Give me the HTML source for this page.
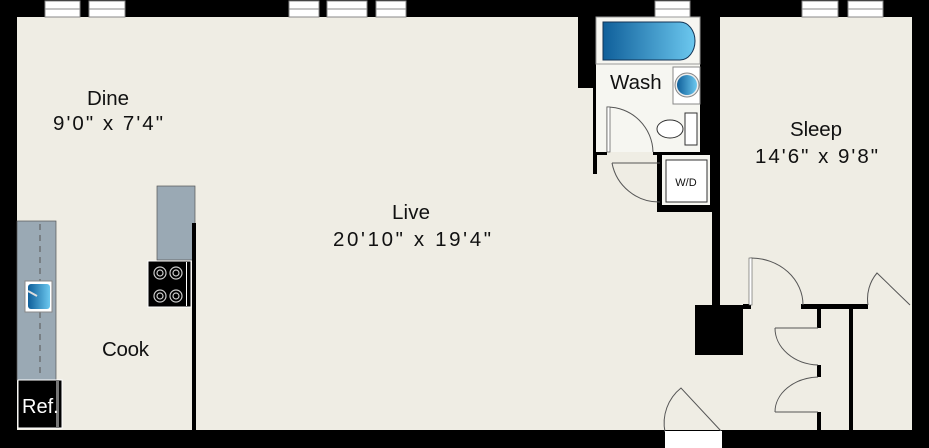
<!DOCTYPE html>
<html><head><style>html,body{margin:0;padding:0;background:#fff}svg{display:block}text{font-family:"Liberation Sans",sans-serif;fill:#111}</style></head>
<body>
<svg width="929" height="448" viewBox="0 0 929 448" xmlns="http://www.w3.org/2000/svg">
<defs>
<linearGradient id="bl" x1="0" x2="1" y1="0" y2="0"><stop offset="0" stop-color="#0f5f9a"/><stop offset="1" stop-color="#6cc8ef"/></linearGradient>
</defs>
<rect x="0" y="0" width="929" height="448" fill="#000"/>
<rect x="17" y="17" width="895" height="413" fill="#efede4"/>
<g fill="#fff" stroke="#888" stroke-width="1">
<rect x="45" y="1" width="35" height="16"/><rect x="89" y="1" width="36" height="16"/>
<rect x="289" y="1" width="30" height="16"/><rect x="327" y="1" width="40" height="16"/><rect x="376" y="1" width="30" height="16"/>
<rect x="655" y="1" width="35" height="16"/><rect x="802" y="1" width="36" height="16"/><rect x="848" y="1" width="35" height="16"/>
</g>
<g stroke="#888" stroke-width="1">
<line x1="45" y1="9" x2="80" y2="9"/><line x1="89" y1="9" x2="125" y2="9"/><line x1="289" y1="9" x2="319" y2="9"/><line x1="327" y1="9" x2="367" y2="9"/><line x1="376" y1="9" x2="406" y2="9"/><line x1="655" y1="9" x2="690" y2="9"/><line x1="802" y1="9" x2="838" y2="9"/><line x1="848" y1="9" x2="883" y2="9"/>
</g>
<rect x="578" y="17" width="18" height="71" fill="#000"/>
<rect x="593" y="88" width="4" height="86" fill="#000"/>
<rect x="596" y="17" width="104" height="135" fill="#f6f6f1"/>
<rect x="700" y="17" width="20" height="136" fill="#000"/>
<rect x="712" y="150" width="8" height="155" fill="#000"/>
<rect x="596" y="152" width="11" height="3" fill="#000"/>
<rect x="653" y="152" width="59" height="3" fill="#000"/>
<rect x="657" y="155" width="55" height="57" fill="#000"/>
<rect x="662" y="155" width="48" height="50" fill="#f6f6f1"/>
<rect x="666" y="160" width="41" height="42" fill="#fff" stroke="#333" stroke-width="1"/>
<text x="686" y="186" font-size="11" text-anchor="middle">W/D</text>
<rect x="596" y="17" width="104" height="47" fill="#f6f6f1" stroke="#999" stroke-width="1"/>
<path d="M603 22 H680 A15 19 0 0 1 680 60 H603 Z" fill="url(#bl)" stroke="#135" stroke-width="1"/>
<rect x="673" y="67" width="27" height="37" fill="#fff" stroke="#888"/>
<circle cx="687" cy="85" r="12" fill="#eee" stroke="#888"/>
<circle cx="687" cy="85" r="10" fill="url(#bl)"/>
<ellipse cx="670" cy="129" rx="13" ry="9" fill="#fff" stroke="#333"/>
<rect x="685" y="113" width="12" height="32" fill="#fff" stroke="#333"/>
<text x="610" y="89" font-size="20.5">Wash</text>
<g fill="none" stroke="#555" stroke-width="1">
<path d="M607 152 V107 A46 46 0 0 1 653 152"/>
<path d="M612 163 H660 M612 163 A48 48 0 0 0 660 202"/>
</g>
<rect x="607" y="107" width="3" height="45" fill="#fff" stroke="#555" stroke-width=".7"/>
<rect x="17" y="221" width="39" height="159" fill="#9aa9b4" stroke="#555" stroke-width=".7"/>
<line x1="40" y1="224" x2="40" y2="378" stroke="#555" stroke-dasharray="6,5"/>
<rect x="25" y="281" width="27" height="31" fill="#fff" stroke="#888"/>
<rect x="28" y="284" width="22" height="25" rx="3" fill="url(#bl)"/>
<line x1="28" y1="291" x2="37" y2="296" stroke="#ddd" stroke-width="2"/>
<rect x="18" y="380" width="44" height="48" fill="#000" stroke="#fff"/>
<rect x="56" y="380" width="3" height="48" fill="#777"/>
<text x="22" y="413" font-size="20" style="fill:#fff">Ref.</text>
<rect x="157" y="186" width="38" height="74" fill="#9aa9b4" stroke="#555" stroke-width=".7"/>
<rect x="148" y="261" width="43" height="46" fill="#000" stroke="#fff"/>
<rect x="186" y="262" width="1" height="44" fill="#fff"/>
<g fill="none" stroke="#ccc" stroke-width="1.2">
<circle cx="160" cy="273" r="6"/><circle cx="160" cy="273" r="3"/><circle cx="176" cy="273" r="6"/><circle cx="176" cy="273" r="3"/>
<circle cx="160" cy="296" r="6"/><circle cx="160" cy="296" r="3"/><circle cx="176" cy="296" r="6"/><circle cx="176" cy="296" r="3"/>
</g>
<rect x="192" y="223" width="4" height="207" fill="#000"/>
<rect x="695" y="305" width="48" height="50" fill="#000"/>
<rect x="743" y="304" width="8" height="5" fill="#000"/>
<rect x="801" y="304" width="67" height="5" fill="#000"/>
<rect x="817" y="305" width="4" height="23" fill="#000"/>
<rect x="817" y="365" width="4" height="12" fill="#000"/>
<rect x="817" y="412" width="4" height="18" fill="#000"/>
<rect x="849" y="305" width="4" height="125" fill="#000"/>
<g fill="none" stroke="#555" stroke-width="1">
<path d="M751 305 V258 A52 47 0 0 1 803 305"/>
<path d="M775 328 H818 M775 328 A45 37 0 0 0 818 365"/>
<path d="M775 412 H818 M775 412 A45 35 0 0 1 818 377"/>
<path d="M868 305 A40 40 0 0 1 877 273 L910 305"/>
<path d="M665 432 A45 45 0 0 1 681 388 L721 431"/>
</g>
<rect x="749" y="258" width="3" height="47" fill="#fff" stroke="#555" stroke-width=".6"/>
<rect x="665" y="431" width="57" height="17" fill="#fff"/>
<g font-size="20.5">
<text x="87" y="105" textLength="42">Dine</text><text x="53" y="130" textLength="110" lengthAdjust="spacing">9'0" x 7'4"</text>
<text x="392" y="219" textLength="38">Live</text><text x="333" y="246" textLength="158" lengthAdjust="spacing">20'10" x 19'4"</text>
<text x="790" y="136" textLength="52">Sleep</text><text x="755" y="163" textLength="123" lengthAdjust="spacing">14'6" x 9'8"</text>
<text x="102" y="356" textLength="47">Cook</text>
</g>
</svg>
</body></html>
